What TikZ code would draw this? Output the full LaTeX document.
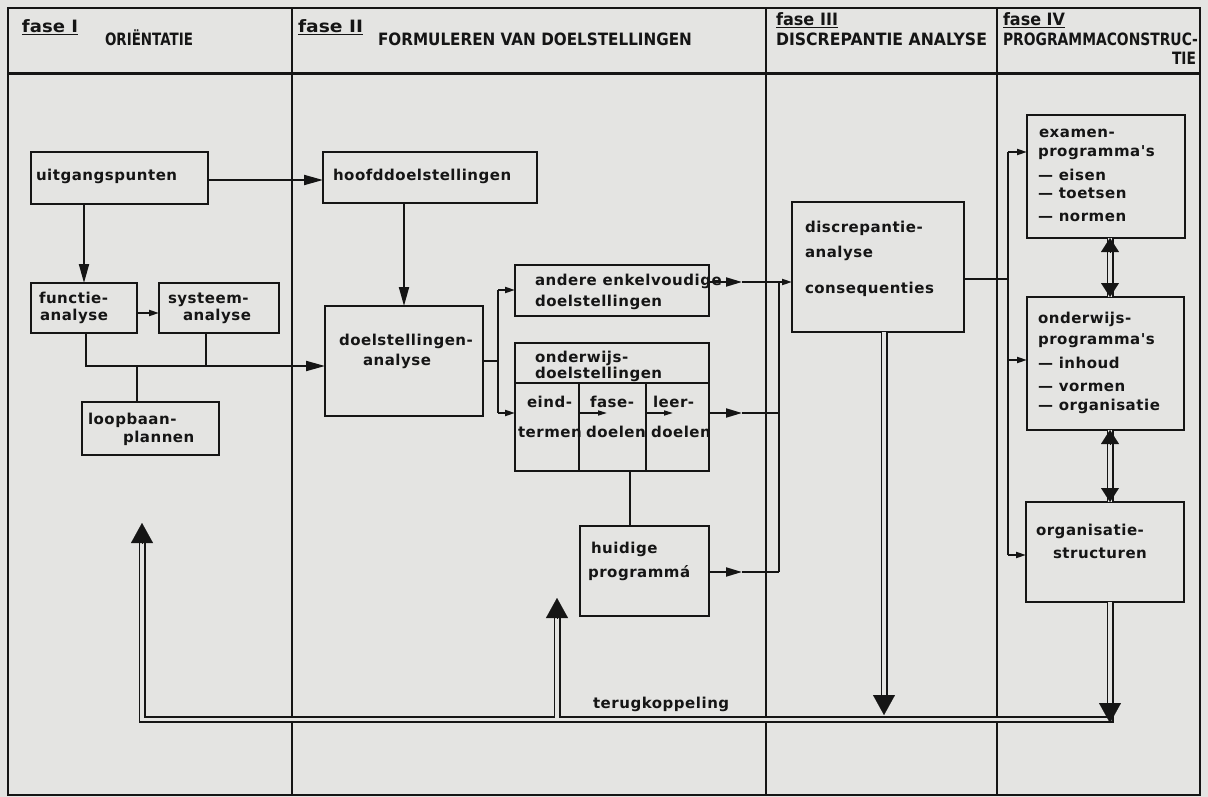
\documentclass[tikz,border=0pt]{standalone}
\usepackage{fontspec}
\usepackage{graphicx}
\setmainfont{DejaVu Sans}
\newfontfamily\dfont[LetterSpace=3.5]{DejaVu Sans}
\newfontfamily\hfont{DejaVu Sans}
\usetikzlibrary{arrows.meta,calc}
\definecolor{ink}{HTML}{151515}
\definecolor{paper}{HTML}{E4E4E2}
\newcommand{\fitw}[2]{\resizebox{#1}{\height}{#2}}
\begin{document}
\begin{tikzpicture}[x=1pt,y=-1pt,
  box/.style={draw=ink,line width=2.4pt,inner sep=0pt,outer sep=0pt,anchor=north west},
  txt/.style={anchor=base west,inner sep=0pt,outer sep=0pt,text=ink,font=\dfont\bfseries\fontsize{15}{17}\selectfont},
  hd/.style={anchor=base west,inner sep=0pt,outer sep=0pt,text=ink,font=\hfont\bfseries\fontsize{17}{19}\selectfont},
  ln/.style={draw=ink,line width=2pt},
  rul/.style={draw=ink,line width=2pt},
  arr/.style={ln,-{Triangle[length=19pt,width=10pt]}},
  marr/.style={ln,-{Triangle[length=16pt,width=9pt]}},
  sarr/.style={ln,-{Triangle[length=10pt,width=6pt]}},
  tarr/.style={draw=ink,line width=1.5pt,-{Triangle[length=9pt,width=5pt]}},
  dbl/.style={draw=ink,line width=1.8pt,double=paper,double distance=3.4pt},
  bhead/.style={draw=ink,line width=0.1pt,-{Triangle[length=20pt,width=22pt]}},
  mhead/.style={draw=ink,line width=0.1pt,-{Triangle[length=14pt,width=18pt]}},
]
\fill[paper] (0,0) rectangle (1208,797);
\useasboundingbox (0,0) rectangle (1208,797);

% frame and columns
\draw[rul] (8,8) rectangle (1200,795);
\draw[ink,line width=3pt] (8,74) -- (1200,74);
\draw[rul] (292,8) -- (292,795);
\draw[rul] (766,8) -- (766,795);
\draw[rul] (997,8) -- (997,795);

% headings
\node[hd] (f1) at (22,33) {\fitw{56pt}{\underline{fase I}}};
\node[hd] (h1) at (105,46) {\fitw{88pt}{ORIËNTATIE}};
\node[hd] (f2) at (298,33) {\fitw{65pt}{\underline{fase II}}};
\node[hd] (h2) at (378,46) {\fitw{314pt}{FORMULEREN VAN DOELSTELLINGEN}};
\node[hd] (f3) at (776,26) {\fitw{62pt}{\underline{fase III}}};
\node[hd] (h3) at (776,46) {\fitw{211pt}{DISCREPANTIE ANALYSE}};
\node[hd] (f4) at (1003,26) {\fitw{62pt}{\underline{fase IV}}};
\node[hd] (h4) at (1003,46) {\fitw{195pt}{PROGRAMMACONSTRUC-}};
\node[hd,anchor=base east] (h4b) at (1196,65) {\fitw{24pt}{TIE}};

% boxes
\node[box,minimum width=177pt,minimum height=52pt] (uitg) at (31,152) {};
\node[box,minimum width=106pt,minimum height=50pt] (functie) at (31,283) {};
\node[box,minimum width=120pt,minimum height=50pt] (systeem) at (159,283) {};
\node[box,minimum width=137pt,minimum height=53pt] (loopbaan) at (82,402) {};
\node[box,minimum width=214pt,minimum height=51pt] (hoofd) at (323,152) {};
\node[box,minimum width=158pt,minimum height=110pt] (doelan) at (325,306) {};
\node[box,minimum width=194pt,minimum height=51pt] (andere) at (515,265) {};
\node[box,minimum width=194pt,minimum height=40pt] (ondh) at (515,343) {};
\node[box,minimum width=64pt,minimum height=88pt] (eind) at (515,383) {};
\node[box,minimum width=67pt,minimum height=88pt] (fasec) at (579,383) {};
\node[box,minimum width=63pt,minimum height=88pt] (leer) at (646,383) {};
\node[box,minimum width=129pt,minimum height=90pt] (huidige) at (580,526) {};
\node[box,minimum width=172pt,minimum height=130pt] (discrep) at (792,202) {};
\node[box,minimum width=158pt,minimum height=123pt] (examen) at (1027,115) {};
\node[box,minimum width=157pt,minimum height=133pt] (ondprog) at (1027,297) {};
\node[box,minimum width=158pt,minimum height=100pt] (org) at (1026,502) {};

% texts
\node[txt] (t1) at (36,180) {uitgangspunten};
\node[txt] (t2) at (39,303) {functie-};
\node[txt] (t3) at (40,320) {analyse};
\node[txt] (t4) at (168,303) {systeem-};
\node[txt] (t5) at (183,320) {analyse};
\node[txt] (t6) at (88,424) {loopbaan-};
\node[txt] (t7) at (123,442) {plannen};
\node[txt] (t8) at (333,180) {hoofddoelstellingen};
\node[txt] (t9) at (339,345) {doelstellingen-};
\node[txt] (t10) at (363,365) {analyse};
\node[txt] (t11) at (535,285) {andere enkelvoudige};
\node[txt] (t12) at (535,306) {doelstellingen};
\node[txt] (t13) at (535,362) {onderwijs-};
\node[txt] (t14) at (535,378) {doelstellingen};
\node[txt] (t15) at (527,407) {eind-};
\node[txt] (t16) at (518,437) {termen};
\node[txt] (t17) at (590,407) {fase-};
\node[txt] (t18) at (586,437) {doelen};
\node[txt] (t19) at (653,407) {leer-};
\node[txt] (t20) at (651,437) {doelen};
\node[txt] (t21) at (591,553) {huidige};
\node[txt] (t22) at (588,577) {programmá};
\node[txt] (t23) at (593,708) {terugkoppeling};
\node[txt] (t24) at (805,232) {discrepantie-};
\node[txt] (t25) at (805,257) {analyse};
\node[txt] (t26) at (805,293) {consequenties};
\node[txt] (t27) at (1039,138) {examen-};
\node[txt] (t28) at (1038,157) {programma's};
\node[txt] (t29) at (1038,180) {— eisen};
\node[txt] (t30) at (1038,198) {— toetsen};
\node[txt] (t31) at (1038,222) {— normen};
\node[txt] (t32) at (1038,323) {onderwijs-};
\node[txt] (t33) at (1038,344) {programma's};
\node[txt] (t34) at (1038,368) {— inhoud};
\node[txt] (t35) at (1038,391) {— vormen};
\node[txt] (t36) at (1038,410) {— organisatie};
\node[txt] (t37) at (1036,535) {organisatie-};
\node[txt] (t38) at (1053,558) {structuren};

% phase I connectors
\draw[arr] ([yshift=-2pt]uitg.east) -- ([yshift=-2pt]uitg.east -| hoofd.west);
\draw[arr] (functie.north |- uitg.south) -- (functie.north);
\draw[sarr] ([yshift=-5pt]functie.east) -- ([yshift=-5pt]systeem.west);
\coordinate (jA) at (86,366);
\coordinate (jB) at (206,366);
\coordinate (jC) at (137,366);
\draw[ln] (functie.south -| jA) -- (jA) -- (jB) -- (systeem.south -| jB);
\draw[arr] (jB) -- (jB -| doelan.west);
\draw[ln] (jC) -- (jC |- loopbaan.north);

% phase II connectors
\draw[arr] (doelan.north |- hoofd.south) -- (doelan.north);
\coordinate (sp) at (498,361);
\coordinate (spT) at (498,290);
\coordinate (spB) at (498,413);
\draw[ln] (doelan.east) -- (sp);
\draw[ln] (spT) -- (spB);
\draw[sarr] (spT) -- (spT -| andere.west);
\draw[sarr] (spB) -- (spB -| eind.west);
\coordinate (iA) at (607,413);
\coordinate (iB) at (673,413);
\draw[tarr] (iA -| eind.east) -- (iA);
\draw[tarr] (iB -| fasec.east) -- (iB);
\draw[ln] (huidige.north -| 630,0) -- (630,471);

% to phase III
\coordinate (am) at (742,282);
\coordinate (lm) at (742,413);
\coordinate (hm) at (742,572);
\coordinate (vT) at (779,282);
\coordinate (vL) at (779,413);
\coordinate (vB) at (779,572);
\draw[marr] (am -| andere.east) -- (am);
\draw[sarr] (am) -- (am -| discrep.west);
\draw[marr] (lm -| leer.east) -- (lm);
\draw[ln] (lm) -- (vL);
\draw[marr] (hm -| huidige.east) -- (hm);
\draw[ln] (hm) -- (vB);
\draw[ln] (vT) -- (vB);

% phase III -> IV
\coordinate (dR) at (1008,279);
\coordinate (e1) at (1008,152);
\coordinate (e2) at (1008,360);
\coordinate (e3) at (1008,555);
\draw[ln] (dR -| discrep.east) -- (dR);
\draw[ln] (e1) -- (e3);
\draw[sarr] (e1) -- (e1 -| examen.west);
\draw[sarr] (e2) -- (e2 -| ondprog.west);
\draw[sarr] (e3) -- (e3 -| org.west);

% double arrows in phase IV
\coordinate (dx) at (1110,0);
\draw[dbl] (examen.south -| dx) -- (ondprog.north -| dx);
\draw[mhead] ($(examen.south -| dx)+(0,14)$) -- (examen.south -| dx);
\draw[mhead] ($(ondprog.north -| dx)+(0,-14)$) -- (ondprog.north -| dx);
\draw[dbl] (ondprog.south -| dx) -- (org.north -| dx);
\draw[mhead] ($(ondprog.south -| dx)+(0,14)$) -- (ondprog.south -| dx);
\draw[mhead] ($(org.north -| dx)+(0,-14)$) -- (org.north -| dx);

% feedback
\coordinate (fbR) at (1110,719.5);
\coordinate (fbL) at (142,719.5);
\coordinate (upL) at (142,535);
\draw[dbl] (org.south -| dx) -- (fbR) -- (fbL) -- (upL);
\coordinate (orgTip) at (1110,723);
\draw[bhead] ($(orgTip)+(0,-20)$) -- (orgTip);
\coordinate (lTip) at (142,523);
\draw[bhead] ($(lTip)+(0,20)$) -- (lTip);
\coordinate (dq) at (884,0);
\coordinate (dTip) at (884,715);
\draw[dbl] (discrep.south -| dq) -- ($(dTip)+(0,-10)$);
\draw[bhead] ($(dTip)+(0,-20)$) -- (dTip);
\coordinate (uB) at (557,717.6);
\coordinate (uTip) at (557,598);
\draw[dbl] (uB) -- ($(uTip)+(0,10)$);
\draw[bhead] ($(uTip)+(0,20)$) -- (uTip);
\end{tikzpicture}
\end{document}
